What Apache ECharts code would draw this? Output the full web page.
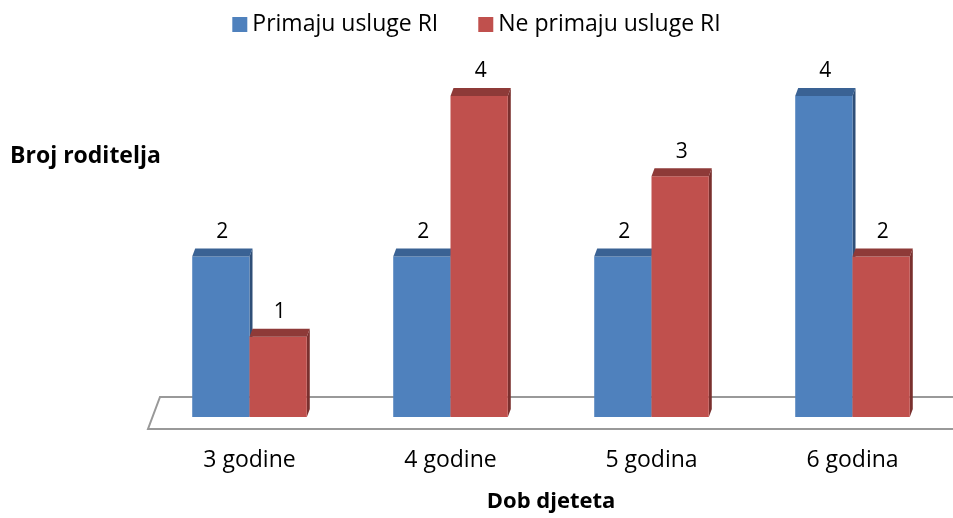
<!DOCTYPE html>
<html>
<head>
<meta charset="utf-8">
<script src="https://cdn.jsdelivr.net/npm/echarts@6/dist/echarts.min.js"></script>
<style>
  html, body { margin: 0; padding: 0; background: #fff; }
  #chart { width: 953px; height: 518px; }
</style>
</head>
<body>
<div id="chart"></div>
<script>
// podaci
const categories = ['3 godine', '4 godine', '5 godina', '6 godina'];
const seriesNames = ['Primaju usluge RI', 'Ne primaju usluge RI'];
const primaju = [2, 2, 2, 4];
const nePrimaju = [1, 4, 3, 2];

const FONT = '"Open Sans", "Noto Sans", sans-serif';
const DX = 3, DY = 8; // dubina 3D vrha

function bar3d(side, front, top, sideCol) {
    return function (params, api) {
        let cat = api.value(0), val = api.value(1);
        let base = api.coord([cat, 0]);
        let head = api.coord([cat, val]);
        let band = api.size([1, 0])[0];
        let w = band * 0.285;
        let x = side < 0 ? base[0] - w : base[0];
        let y0 = base[1], y1 = head[1];
        return {
            type: 'group',
            children: [
                {
                    type: 'polygon',
                    shape: { points: [[x + w, y1], [x + w + DX, y1 - DY], [x + w + DX, y0 - DY], [x + w, y0]] },
                    style: { fill: sideCol }
                },
                {
                    type: 'rect',
                    shape: { x: x, y: y1, width: w, height: y0 - y1 },
                    style: { fill: front }
                },
                {
                    type: 'polygon',
                    shape: { points: [[x, y1], [x + DX, y1 - DY], [x + w + DX, y1 - DY], [x + w, y1]] },
                    style: { fill: top }
                },
                {
                    type: 'text',
                    style: {
                        text: String(val), x: x + w / 2 + DX / 2, y: y1 - DY - 6,
                        align: 'center', verticalAlign: 'bottom',
                        font: '21px ' + FONT, fill: '#000'
                    }
                }
            ]
        };
    };
}

function makeSeries(name, values, side, front, top, sideCol) {
    return {
        name: name,
        type: 'custom',
        z: 3,
        itemStyle: { color: front },
        renderItem: bar3d(side, front, top, sideCol),
        encode: { x: 0, y: 1 },
        data: values.map((v, i) => [i, v])
    };
}

let chart = echarts.init(document.getElementById('chart'));
let option = {
    animation: false,
    title: {
        text: 'Broj roditelja',
        left: 5, top: 140,
        textStyle: { fontFamily: FONT, fontSize: 23, fontWeight: 'bold', color: '#000' }
    },
    legend: {
        data: seriesNames,
        top: 8, left: 'center',
        icon: 'rect', itemWidth: 15, itemHeight: 15, itemGap: 40,
        textStyle: { fontFamily: FONT, fontSize: 23, color: '#000' }
    },
    grid: { left: 149, right: -10, top: 96, bottom: 98 },
    xAxis: {
        type: 'category',
        data: categories,
        axisLine: { show: false },
        axisTick: { show: false },
        axisLabel: { margin: 32, fontFamily: FONT, fontSize: 23, color: '#000' },
        name: 'Dob djeteta',
        nameLocation: 'middle',
        nameGap: 74,
        nameTextStyle: { fontFamily: FONT, fontSize: 22, fontWeight: 'bold', color: '#000' }
    },
    yAxis: {
        type: 'value', min: 0, max: 4, interval: 1,
        show: false, splitLine: { show: false }
    },
    series: [
        makeSeries(seriesNames[0], primaju, -1, '#4F81BD', '#3A6294', '#2F4F78'),
        makeSeries(seriesNames[1], nePrimaju, 1, '#C0504D', '#8E3A38', '#7A302E')
    ]
};
chart.setOption(option);

// pod (3D podloga)
let y0 = chart.convertToPixel({ yAxisIndex: 0 }, 0);
let xc = chart.convertToPixel({ xAxisIndex: 0 }, 0);
let band = chart.convertToPixel({ xAxisIndex: 0 }, 1) - xc;
let xl = xc - band / 2;
chart.setOption({
    graphic: [{
        type: 'polyline', z: 1, silent: true,
        shape: { points: [[xl + 1200, y0 + 12], [xl - 1, y0 + 12], [xl + 11, y0 - 20], [xl + 1200, y0 - 20]] },
        style: { fill: 'none', stroke: '#999', lineWidth: 2 }
    }]
});
</script>
</body>
</html>
